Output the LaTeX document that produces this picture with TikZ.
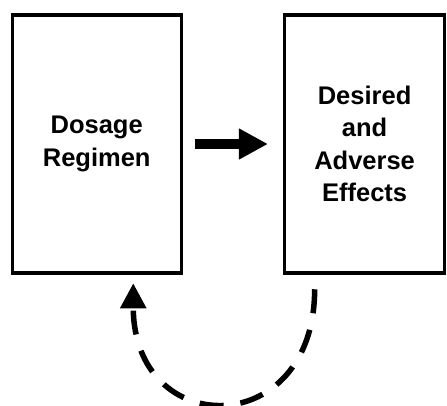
\documentclass[tikz,border=0pt]{standalone}
\usepackage{fontspec}
\setmainfont{Liberation Sans}
\usetikzlibrary{arrows.meta}

\begin{document}
\begin{tikzpicture}[
  x=1pt,
  y=-1pt,
  panel/.style={
    draw,
    line width=3.3pt,
    minimum height=258pt,
    align=center,
    font=\fontsize{25.5}{32.5}\selectfont\bfseries
  },
  bigarrow/.style={-{Triangle[length=29pt,width=29pt]},line width=10pt},
  feedback/.style={-{Triangle[length=25pt,width=25pt]},line width=5.5pt,dash pattern=on 24pt off 17pt}
]
  \useasboundingbox (0,0) rectangle (447,405);

  \node[panel,minimum width=169pt] (dose) at (96.7,144) {Dosage\\Regimen};
  \node[panel,minimum width=160pt] (effects) at (364.6,144) {Desired\\and\\Adverse\\Effects};

  \draw[bigarrow,shorten <=12pt,shorten >=15pt] (dose.east) -- (effects.west);

  \draw[feedback]
    ([xshift=31.7pt,yshift=-14.6pt]effects.south west)
      .. controls +(0,152) and +(0,158) ..
    ([xshift=122.7pt,yshift=-8.6pt]dose.south west);
\end{tikzpicture}
\end{document}
